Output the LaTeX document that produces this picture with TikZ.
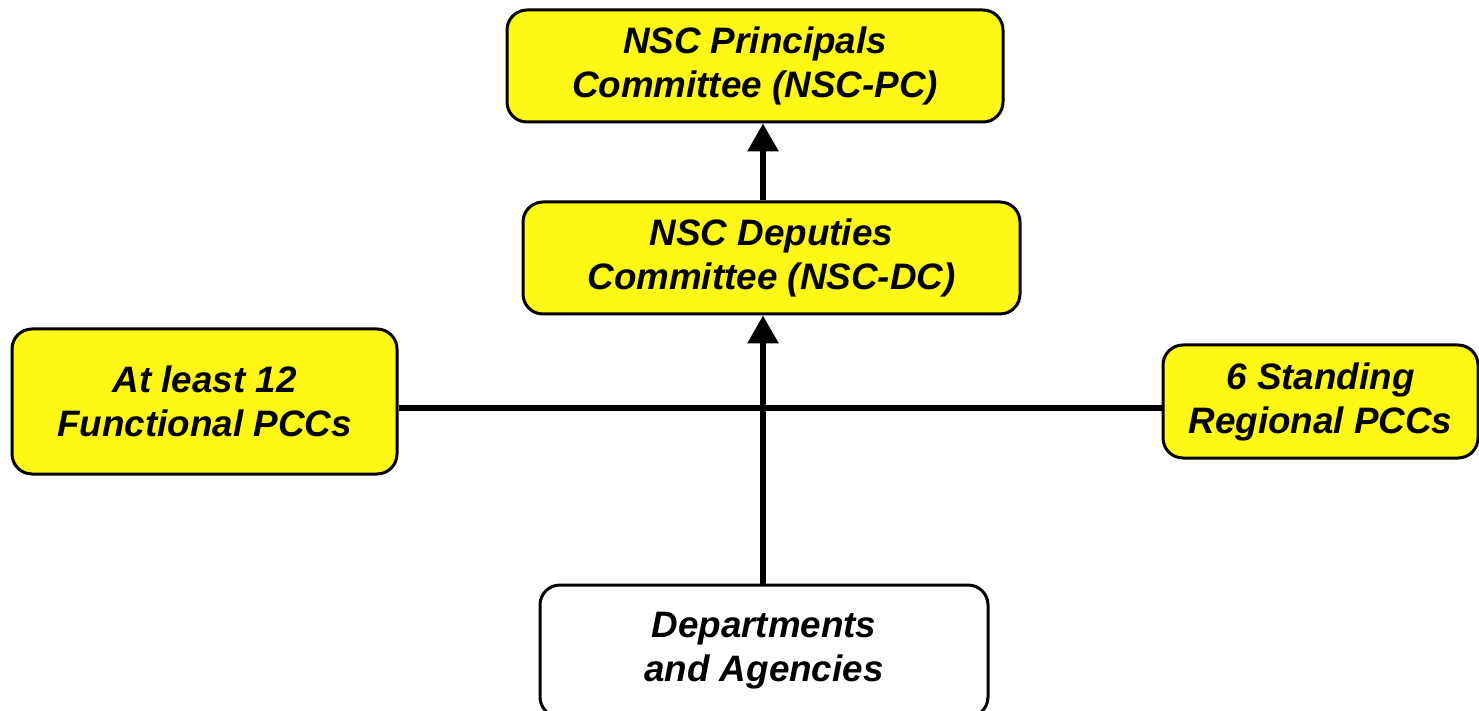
\documentclass[tikz,border=0pt]{standalone}
\usepackage{fontspec}
\setmainfont{Liberation Sans}
\usetikzlibrary{arrows.meta}
\definecolor{boxyellow}{RGB}{255,247,20}

\begin{document}
\begin{tikzpicture}[x=0.5pt, y=-0.5pt,
	box/.style = {draw, line width=1.5pt, rounded corners=10pt, align=center, inner sep=0pt,
		font=\fontsize{18.4}{22}\selectfont\bfseries\itshape},
	comm/.style = {box, fill=boxyellow},
	link/.style = {line width=3pt},
	up/.style = {link, -{Triangle[length=14pt,width=15pt]}}]
	\useasboundingbox (0,0) rectangle (1479,711);
	\node[comm, minimum width=248pt, minimum height=56pt] (pc) at (755,66) {NSC Principals\\Committee (NSC-PC)};
	\node[comm, minimum width=248.5pt, minimum height=56pt] (dc) at (771.5,258) {NSC Deputies\\Committee (NSC-DC)};
	\node[comm, minimum width=192.5pt, minimum height=72.5pt] (func) at (204.5,401.5) {At least 12\\Functional PCCs};
	\node[comm, minimum width=157.5pt, minimum height=56.5pt] (reg) at (1320.5,401.5) {6 Standing\\Regional PCCs};
	\node[box, fill=white, minimum width=224pt, minimum height=66pt] (dept) at (764,651) {Departments\\and Agencies};
	\coordinate (hub) at (763,408);
	% connectors
	\draw[link] (func.east |- hub) -- (reg.west |- hub);
	\draw[up] (dept.north -| hub) -- (dc.south -| hub);
	\draw[up] (dc.north -| hub) -- (pc.south -| hub);
\end{tikzpicture}
\end{document}
